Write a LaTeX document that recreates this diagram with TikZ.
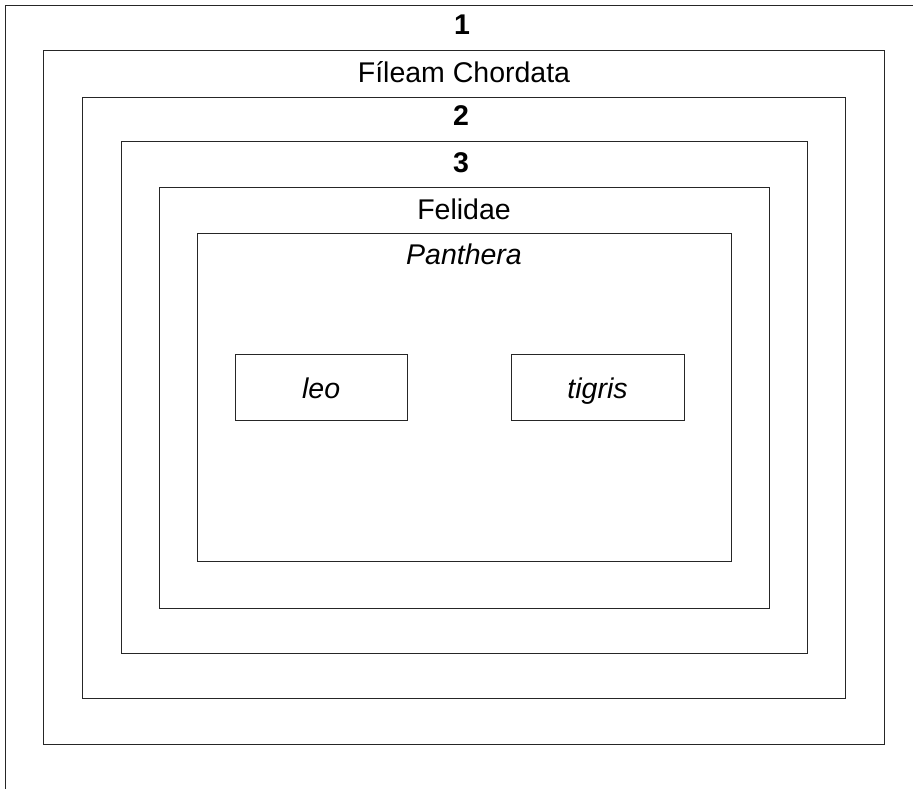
\documentclass[tikz,border=0pt]{standalone}
\usepackage{fontspec}
\setmainfont{Liberation Sans}
\begin{document}
\begin{tikzpicture}[x=1bp,y=-1bp,
  box/.style={draw=black!85,line width=0.9bp,rectangle,anchor=north west,inner sep=0pt,outer sep=0pt},
  lbl/.style={anchor=base,inner sep=0pt,font=\fontsize{28.5bp}{34bp}\selectfont}]
\useasboundingbox (0,0) rectangle (913,789);
\clip (0,0) rectangle (913,789);
\fill[white] (0,0) rectangle (913,789);
% nested boxes
\node[box,minimum width=920bp,minimum height=800bp] (b1) at (5.3,5.3) {};
\node[box,minimum width=840.6bp,minimum height=693.3bp] (b2) at (43.7,50.7) {};
\node[box,minimum width=762.6bp,minimum height=600.7bp] (b3) at (82.7,97.3) {};
\node[box,minimum width=686.3bp,minimum height=511.6bp] (b4) at (121,141.7) {};
\node[box,minimum width=610.3bp,minimum height=421.3bp] (b5) at (159,187) {};
\node[box,minimum width=534bp,minimum height=328bp] (b6) at (197,233.7) {};
\node[box,minimum width=172.3bp,minimum height=65.6bp] (leo) at (235,354.7) {};
\node[box,minimum width=173bp,minimum height=65.6bp] (tig) at (511,354.7) {};
% labels
\node[lbl,font=\fontsize{28.5bp}{34bp}\selectfont\bfseries] (t1) at (462,34.3) {1};
\node[lbl] (t2) at (464,82.3) {Fíleam Chordata};
\node[lbl,font=\fontsize{28.5bp}{34bp}\selectfont\bfseries] (t3) at (461,125.3) {2};
\node[lbl,font=\fontsize{28.5bp}{34bp}\selectfont\bfseries] (t4) at (461,172) {3};
\node[lbl] (t5) at (464,219.5) {Felidae};
\node[lbl] (t6) at (464,264.5) {\itshape Panthera};
\node[lbl,font=\fontsize{28.5bp}{34bp}\selectfont\itshape] (t7) at ([yshift=-10.5bp]leo.center) {leo};
\node[lbl,font=\fontsize{28.5bp}{34bp}\selectfont\itshape] (t8) at ([yshift=-10.5bp]tig.center) {tigris};
\end{tikzpicture}
\end{document}
